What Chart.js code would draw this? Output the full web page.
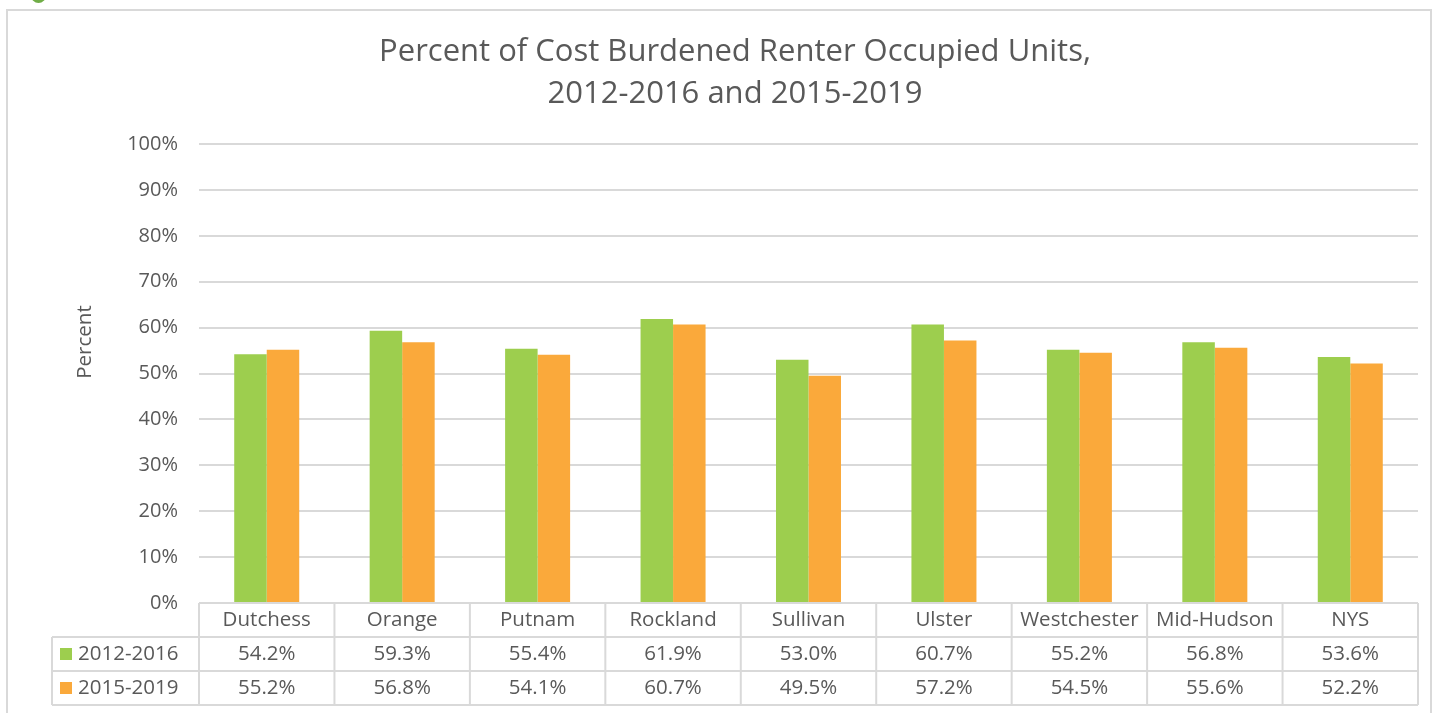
<!DOCTYPE html>
<html>
<head>
<meta charset="utf-8">
<script src="https://cdn.jsdelivr.net/npm/chart.js"></script>
<style>
  html, body { margin: 0; padding: 0; background: #fff; overflow: hidden; }
  #dot { position: absolute; left: 31px; top: -12px; width: 15px; height: 15px; border-radius: 50%; background: #70ad47; }
  #frame { position: absolute; left: 6px; top: 9px; width: 1422px; height: 720px; border: 2px solid #d9d9d9; }
  #wrap { position: absolute; left: 0; top: 0; width: 1440px; height: 713px; }
</style>
</head>
<body>
<div id="dot"></div>
<div id="frame"></div>
<div id="wrap"><canvas id="burdenChart"></canvas></div>
<script>
const counties = ["Dutchess", "Orange", "Putnam", "Rockland", "Sullivan", "Ulster", "Westchester", "Mid-Hudson", "NYS"];
const period1 = [54.2, 59.3, 55.4, 61.9, 53.0, 60.7, 55.2, 56.8, 53.6];
const period2 = [55.2, 56.8, 54.1, 60.7, 49.5, 57.2, 54.5, 55.6, 52.2];
const seriesNames = ["2012-2016", "2015-2019"];
const yTicks = [0, 10, 20, 30, 40, 50, 60, 70, 80, 90, 100];

const textColor = "#595959";
const lineColor = "#d9d9d9";
const fontFamily = "'Open Sans', sans-serif";

// draws the data table (header, legend keys, values) under the plot
const dataTable = {
  id: "dataTable",
  afterDraw(chart) {
    const { ctx, chartArea } = chart;
    const x = chart.scales.x;
    const rowH = 34;
    const tableLeft = 52;
    const top = chartArea.bottom;
    const step = (chartArea.right - chartArea.left) / counties.length;

    ctx.save();
    ctx.strokeStyle = lineColor;
    ctx.lineWidth = 2;
    ctx.beginPath();
    ctx.moveTo(chartArea.left, top);
    ctx.lineTo(chartArea.right, top);
    for (let r = 1; r <= 3; r++) {
      ctx.moveTo(tableLeft, top + r * rowH);
      ctx.lineTo(chartArea.right, top + r * rowH);
    }
    for (let i = 0; i <= counties.length; i++) {
      const px = chartArea.left + i * step;
      ctx.moveTo(px, top);
      ctx.lineTo(px, top + 3 * rowH);
    }
    ctx.moveTo(tableLeft, top + rowH);
    ctx.lineTo(tableLeft, top + 3 * rowH);
    ctx.stroke();

    ctx.fillStyle = textColor;
    ctx.font = "20.5px " + fontFamily;
    ctx.textAlign = "center";
    ctx.textBaseline = "middle";
    counties.forEach((c, i) => {
      const cx = x.getPixelForValue(i);
      ctx.fillText(c, cx, top + rowH / 2);
      ctx.fillText(period1[i].toFixed(1) + "%", cx, top + rowH * 1.5);
      ctx.fillText(period2[i].toFixed(1) + "%", cx, top + rowH * 2.5);
    });

    chart.data.datasets.forEach((ds, r) => {
      const cy = top + rowH * (r + 1.5);
      ctx.fillStyle = ds.backgroundColor;
      ctx.fillRect(tableLeft + 8, cy - 6, 12, 12);
      ctx.fillStyle = textColor;
      ctx.textAlign = "left";
      ctx.fillText(ds.label, tableLeft + 26, cy);
    });

    // y axis title
    ctx.save();
    ctx.translate(85, chartArea.top + 198);
    ctx.rotate(-Math.PI / 2);
    ctx.textAlign = "center";
    ctx.fillText("Percent", 0, 0);
    ctx.restore();
    ctx.restore();
  }
};

new Chart("burdenChart", {
  type: "bar",
  data: {
    labels: counties,
    datasets: [
      { label: seriesNames[0], data: period1, backgroundColor: "#9DCE4E", borderWidth: 0 },
      { label: seriesNames[1], data: period2, backgroundColor: "#FAA93B", borderWidth: 0 }
    ]
  },
  options: {
    responsive: true,
    maintainAspectRatio: false,
    animation: false,
    layout: { padding: { left: 52, right: 22, top: 0, bottom: 8 } },
    datasets: { bar: { categoryPercentage: 0.48, barPercentage: 1.0 } },
    plugins: {
      legend: { display: false },
      tooltip: { enabled: false },
      title: {
        display: true,
        text: ["Percent of Cost Burdened Renter Occupied Units,", "2012-2016 and 2015-2019"],
        color: textColor,
        font: { family: fontFamily, size: 31, weight: "normal", lineHeight: 1.355 },
        padding: { top: 31, bottom: 29 }
      }
    },
    scales: {
      x: {
        ticks: { display: false },
        grid: { display: false },
        border: { display: false },
        afterFit(s) { s.height = 102; }
      },
      y: {
        min: 0,
        max: 100,
        afterBuildTicks(s) { s.ticks = yTicks.map(v => ({ value: v })); },
        afterFit(s) { s.width = 147; },
        ticks: {
          color: textColor,
          padding: 21,
          font: { family: fontFamily, size: 20 },
          callback: v => v + "%"
        },
        grid: { color: lineColor, lineWidth: 2, drawTicks: false },
        border: { display: false }
      }
    }
  },
  plugins: [dataTable]
});
</script>
</body>
</html>
